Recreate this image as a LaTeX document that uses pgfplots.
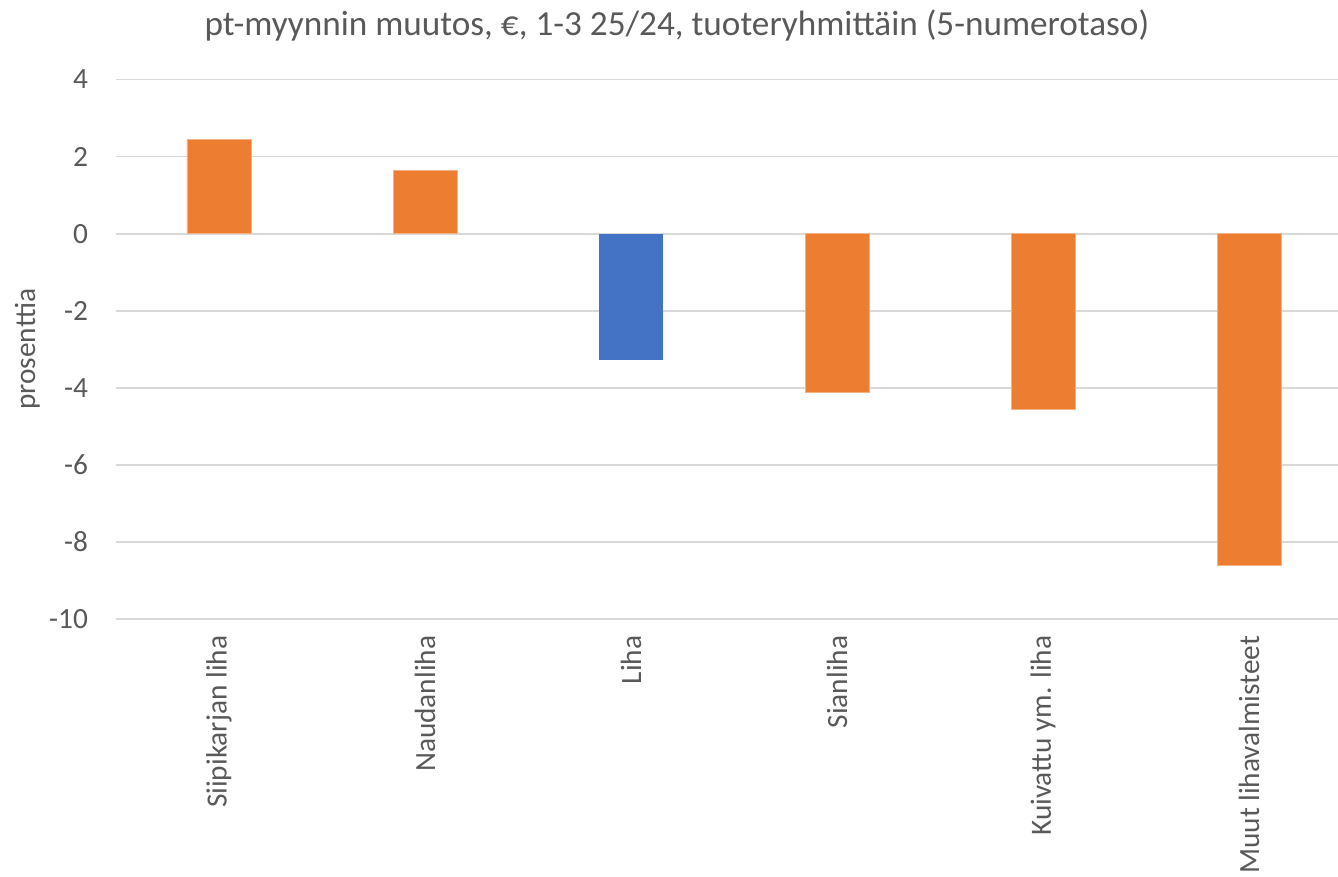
\documentclass[border=0pt]{standalone}
\usepackage{pgfplots}
\pgfplotsset{compat=1.18}
\usepackage{fontspec}
\setmainfont{Carlito}
\definecolor{txt}{HTML}{595959}
\definecolor{gridc}{HTML}{D9D9D9}
\definecolor{orangeb}{HTML}{ED7D31}
\definecolor{blueb}{HTML}{4472C4}
\begin{document}
\begin{tikzpicture}
\useasboundingbox (-87pt,-193.5pt) rectangle (916.5pt,464.25pt);
\begin{axis}[
  at={(0,0)}, anchor=south west,
  scale only axis,
  width=916.5pt, height=404.6pt,
  xmin=-0.5, xmax=5.432,
  ymin=-10, ymax=4,
  ytick={-10,-8,...,4},
  xtick={0,1,2,3,4,5},
  xticklabels={Siipikarjan liha,Naudanliha,Liha,Sianliha,Kuivattu ym. liha,Muut lihavalmisteet},
  axis line style={draw=none},
  major tick length=0pt,
  ymajorgrids,
  grid style={gridc, line width=1.3pt},
  tick label style={font=\fontsize{22}{26}\selectfont, text=txt},
  /pgf/number format/assume math mode=true,
  yticklabel style={anchor=east, xshift=-17.5pt},
  xticklabel style={yshift=-9pt, rotate=90, anchor=east},
  ylabel={prosenttia},
  ylabel style={at={(axis description cs:-0.0725,0.5)}, anchor=center, rotate=0, font=\fontsize{22}{26}\selectfont, text=txt},
  title={pt-myynnin muutos, €, 1-3 25/24, tuoteryhmittäin (5-numerotaso)},
  title style={at={(axis description cs:0.459,1.086)}, anchor=center, font=\fontsize{26.4}{31}\selectfont, text=txt},
  ybar, bar width=48pt,
  clip=false,
]
\addplot[fill=orangeb, draw=orangeb!60!white, bar shift=0pt] coordinates {(0,2.44) (1,1.65) (3,-4.12) (4,-4.56) (5,-8.60)};
\addplot[fill=blueb, draw=none, bar shift=0pt] coordinates {(2,-3.28)};
\end{axis}
\end{tikzpicture}
\end{document}
